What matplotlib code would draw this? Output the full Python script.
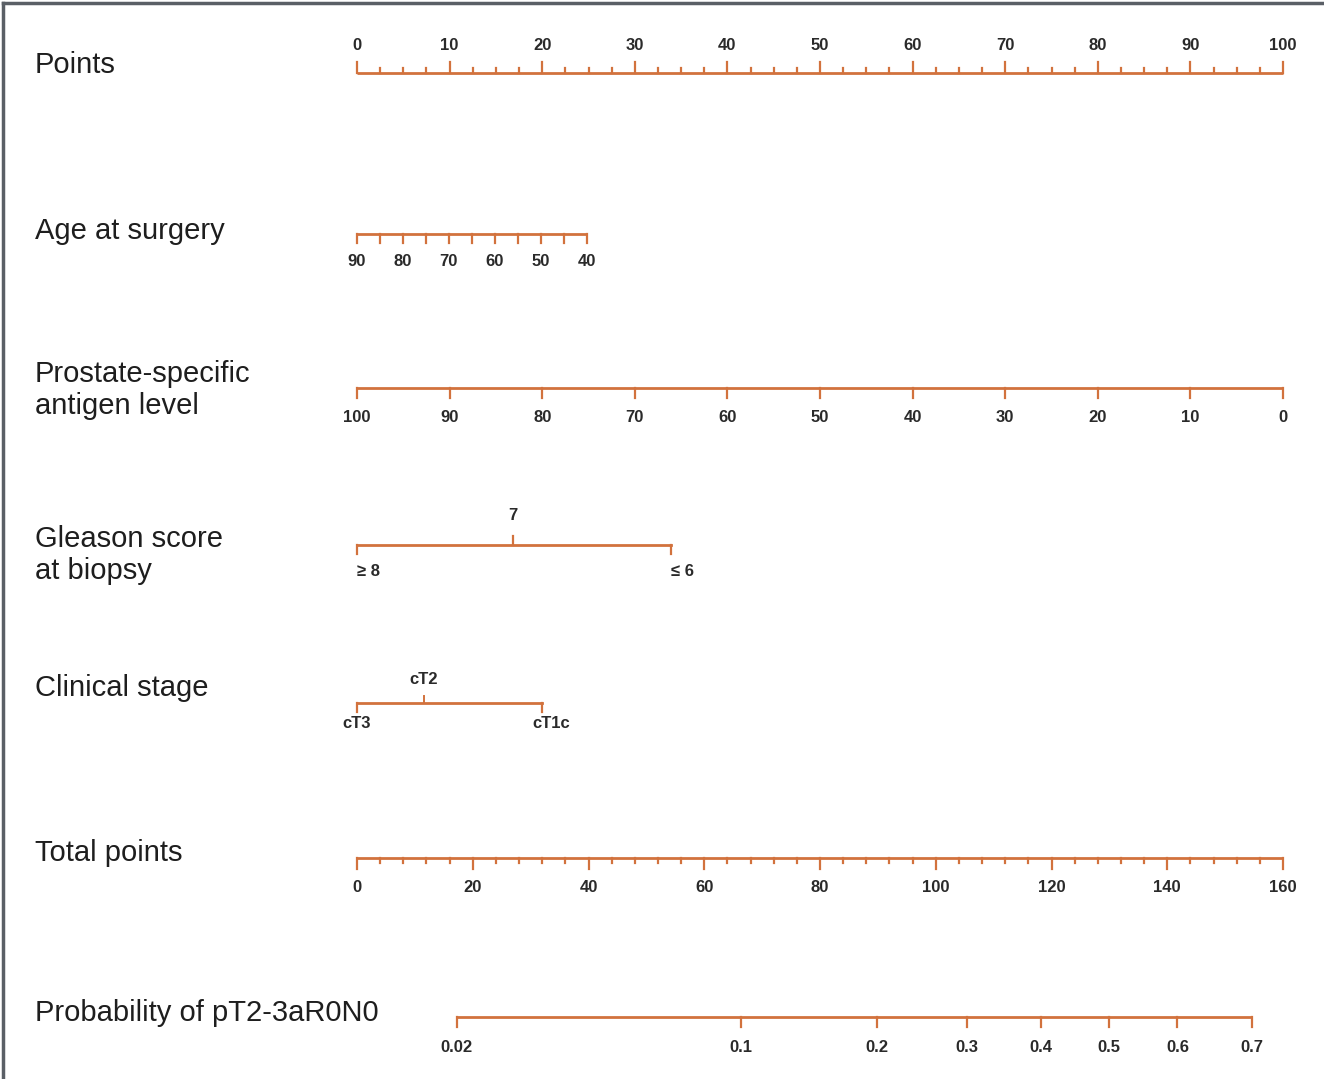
import numpy as np
import matplotlib.pyplot as plt
from matplotlib.lines import Line2D

plt.rcParams['font.family'] = ['Liberation Sans', 'DejaVu Sans']

# points scale
points_major = np.arange(0, 101, 10)
points_minor = np.arange(0, 100.1, 2.5)

# age at surgery: 90 years -> 0 points, 40 years -> max points
age_ticks = [90, 85, 80, 75, 70, 65, 60, 55, 50, 45, 40]
age_labels = [90, 80, 70, 60, 50, 40]
age_max_points = 24.8

# PSA: 100 -> 0 points, 0 -> 100 points
psa_ticks = [100, 90, 80, 70, 60, 50, 40, 30, 20, 10, 0]

gleason_labels = ['\u2265 8', '7', '\u2264 6']
gleason_points = [0.0, 16.8, 33.9]

stage_labels = ['cT3', 'cT2', 'cT1c']
stage_points = [0.0, 7.2, 20.0]

total_major = np.arange(0, 161, 20)
total_minor = np.arange(0, 160.1, 4)
total_max = 160

prob_ticks = [0.02, 0.1, 0.2, 0.3, 0.4, 0.5, 0.6, 0.7]
prob_labels = ['0.02', '0.1', '0.2', '0.3', '0.4', '0.5', '0.6', '0.7']
# linear predictor = lp_slope * (total points - lp_offset)
lp_slope = 0.0345
lp_offset = 130.0

LINE = '#d2723d'
TXT = '#1e1e1e'
NAME_FS = 21
TICK_FS = 12


def age_pts(a):
    return (90 - np.asarray(a, float)) / 50.0 * age_max_points


def psa_pts(v):
    return 100 - np.asarray(v, float)


def total_pts(t):
    return np.asarray(t, float) * 100.0 / total_max


def prob_pts(p):
    p = np.asarray(p, float)
    return total_pts(lp_offset + np.log(p / (1 - p)) / lp_slope)


W, H = 1324, 1079
fig = plt.figure(figsize=(W / 100, H / 100), dpi=100)
ax = fig.add_axes([0, 0, 1, 1])
px = 9.26  # pixels per point
ax.set_xlim(-357 / px, (W - 357) / px)
ax.set_ylim(H, 0)
ax.axis('off')


def scale(y, xs, ticks_len, up=False, lw=2.0):
    xs = np.asarray(xs, float)
    ax.plot([xs.min(), xs.max()], [y, y], color=LINE, lw=lw, solid_capstyle='butt')
    d = -1 if up else 1
    for x, L in zip(xs, ticks_len):
        ax.plot([x, x], [y, y + d * L], color=LINE, lw=1.6)


def name(y, text):
    ax.text(-322 / px, y, text, fontsize=NAME_FS, color=TXT, va='baseline', ha='left')


def lab(x, y, text, ha='center'):
    ax.text(x, y, text, fontsize=TICK_FS, color='#2a2a2a', va='center', ha=ha,
            fontweight='bold')


# Points
y = 73
lens = [11 if abs(v % 10) < 1e-9 else 5 for v in points_minor]
scale(y, points_minor, lens, up=True)
for v in points_major:
    lab(v, 46, str(v))
name(73, 'Points')

# Age at surgery
y = 234
scale(y, age_pts(age_ticks), [9] * len(age_ticks))
for v in age_labels:
    lab(age_pts(v), 262, str(v))
name(239, 'Age at surgery')

# PSA
y = 388
scale(y, psa_pts(psa_ticks), [10] * len(psa_ticks))
for v in psa_ticks:
    lab(psa_pts(v), 417, str(v))
name(382, 'Prostate-specific')
name(414, 'antigen level')

# Gleason score
y = 545
ax.plot([gleason_points[0], gleason_points[-1]], [y, y], color=LINE, lw=2.0)
for i, (p, t) in enumerate(zip(gleason_points, gleason_labels)):
    if i == 1:
        ax.plot([p, p], [y, y - 9], color=LINE, lw=1.6)
        lab(p, 516, t)
    else:
        ax.plot([p, p], [y, y + 9], color=LINE, lw=1.6)
        lab(p, 571, t, ha='left')
name(547, 'Gleason score')
name(579, 'at biopsy')

# Clinical stage
y = 703
ax.plot([stage_points[0], stage_points[-1]], [y, y], color=LINE, lw=2.0)
for i, (p, t) in enumerate(zip(stage_points, stage_labels)):
    if i == 1:
        ax.plot([p, p], [y, y - 7], color=LINE, lw=1.4)
        lab(p, 679, t)
    else:
        ax.plot([p, p], [y, y + 9], color=LINE, lw=1.6)
        lab(p + (1.0 if i == 2 else 0), 723, t)
name(696, 'Clinical stage')

# Total points
y = 858
lens = [11 if v % 20 == 0 else 5 for v in total_minor]
scale(y, total_pts(total_minor), lens)
for v in total_major:
    lab(total_pts(v), 888, str(v))
name(861, 'Total points')

# Probability
y = 1017
scale(y, prob_pts(prob_ticks), [10] * len(prob_ticks))
for p, t in zip(prob_ticks, prob_labels):
    lab(prob_pts(p), 1047, t)
name(1021, 'Probability of pT2-3aR0N0')

# frame on the top and left edges
fig.add_artist(Line2D([3 / W, 3 / W], [0, 1 - 3 / H], transform=fig.transFigure,
                      color='#5a5f66', lw=2.5))
fig.add_artist(Line2D([3 / W, 1], [1 - 3 / H, 1 - 3 / H], transform=fig.transFigure,
                      color='#5a5f66', lw=2.5))

fig.savefig('out.png', dpi=100)
